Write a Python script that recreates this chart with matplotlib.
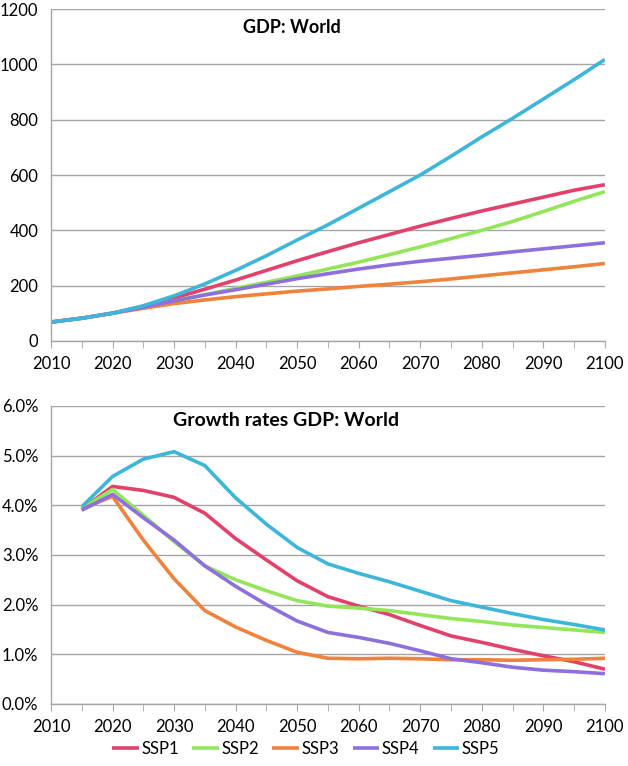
import matplotlib
matplotlib.use("Agg")
import matplotlib.pyplot as plt
from matplotlib.ticker import FuncFormatter, MultipleLocator

plt.rcParams['font.family'] = ['Lato', 'DejaVu Sans']

years_gdp = [2010, 2015, 2020, 2025, 2030, 2035, 2040, 2045, 2050, 2055, 2060,
             2065, 2070, 2075, 2080, 2085, 2090, 2095, 2100]
gdp_ssp1 = [68, 82, 100, 125, 155, 187, 220, 255, 290, 323, 355, 385, 415, 443, 470, 495, 520, 545, 565]
gdp_ssp2 = [68, 82, 100, 122, 145, 167, 190, 212, 235, 260, 285, 312, 340, 370, 400, 432, 468, 505, 540]
gdp_ssp3 = [68, 82, 100, 118, 135, 148, 160, 170, 180, 188, 197, 205, 214, 224, 235, 246, 257, 268, 280]
gdp_ssp4 = [68, 82, 100, 122, 145, 166, 185, 205, 225, 243, 260, 275, 288, 299, 310, 322, 333, 344, 355]
gdp_ssp5 = [68, 82, 100, 127, 163, 206, 255, 308, 365, 420, 480, 540, 600, 668, 738, 805, 875, 945, 1018]

years_gr = [2015, 2020, 2025, 2030, 2035, 2040, 2045, 2050, 2055, 2060,
            2065, 2070, 2075, 2080, 2085, 2090, 2095, 2100]
gr_ssp1 = [3.92, 4.38, 4.30, 4.16, 3.84, 3.33, 2.90, 2.48, 2.16, 1.97, 1.80, 1.58, 1.37, 1.24, 1.10, 0.97, 0.85, 0.70]
gr_ssp2 = [3.93, 4.32, 3.80, 3.27, 2.78, 2.50, 2.28, 2.08, 1.97, 1.93, 1.88, 1.80, 1.72, 1.66, 1.59, 1.54, 1.49, 1.44]
gr_ssp3 = [3.93, 4.18, 3.30, 2.52, 1.88, 1.55, 1.28, 1.04, 0.92, 0.91, 0.92, 0.91, 0.89, 0.89, 0.88, 0.89, 0.90, 0.92]
gr_ssp4 = [3.90, 4.22, 3.75, 3.30, 2.78, 2.37, 2.00, 1.67, 1.44, 1.34, 1.22, 1.07, 0.91, 0.83, 0.74, 0.68, 0.65, 0.61]
gr_ssp5 = [3.97, 4.58, 4.93, 5.08, 4.80, 4.15, 3.62, 3.15, 2.82, 2.63, 2.46, 2.27, 2.08, 1.95, 1.82, 1.70, 1.60, 1.49]

labels = ['SSP1', 'SSP2', 'SSP3', 'SSP4', 'SSP5']
colors = ['#E2416B', '#93E55A', '#EF823C', '#8E6FDD', '#3DB6D9']

fig = plt.figure(figsize=(6.28, 7.66), dpi=100)
ax1 = fig.add_axes([0.0812, 0.555, 0.882, 0.433])
ax2 = fig.add_axes([0.0812, 0.081, 0.882, 0.389])

grid_c = '#A6A6A6'
for ax in (ax1, ax2):
    for s in ('top', 'right'):
        ax.spines[s].set_visible(False)
    ax.spines['left'].set_color(grid_c)
    ax.spines['bottom'].set_color(grid_c)
    ax.spines['left'].set_linewidth(1.0)
    ax.spines['bottom'].set_linewidth(1.0)
    ax.set_xlim(2010, 2100)
    ax.set_xticks(range(2010, 2101, 10))
    ax.xaxis.set_minor_locator(MultipleLocator(5))
    ax.tick_params(axis='x', which='both', direction='out', length=5, color=grid_c,
                   labelsize=12, pad=6)
    ax.tick_params(axis='y', length=0, labelsize=12, pad=9)
    ax.grid(axis='y', color=grid_c, linewidth=1.0)
    ax.set_axisbelow(True)

for ys, c, l in zip([gdp_ssp1, gdp_ssp2, gdp_ssp3, gdp_ssp4, gdp_ssp5], colors, labels):
    ax1.plot(years_gdp, ys, color=c, lw=2.6, label=l, solid_capstyle='butt')
ax1.set_ylim(0, 1200)
ax1.set_yticks(range(0, 1201, 200))
ax1.text(0.435, 0.945, 'GDP: World', transform=ax1.transAxes, ha='center', va='center',
         fontsize=13, fontweight='bold')

for ys, c, l in zip([gr_ssp1, gr_ssp2, gr_ssp3, gr_ssp4, gr_ssp5], colors, labels):
    ax2.plot(years_gr, ys, color=c, lw=2.6, label=l, solid_capstyle='butt')
ax2.set_ylim(0, 6)
ax2.set_yticks([0, 1, 2, 3, 4, 5, 6])
ax2.yaxis.set_major_formatter(FuncFormatter(lambda v, p: f'{v:.1f}%'))
ax2.text(0.425, 0.95, 'Growth rates GDP: World', transform=ax2.transAxes, ha='center',
         va='center', fontsize=14, fontweight='bold')

ax2.legend(loc='upper center', bbox_to_anchor=(0.46, -0.075), ncol=5, frameon=False,
           fontsize=12, handlelength=1.6, handletextpad=0.15, columnspacing=0.8)

fig.savefig('out.png', dpi=100)
